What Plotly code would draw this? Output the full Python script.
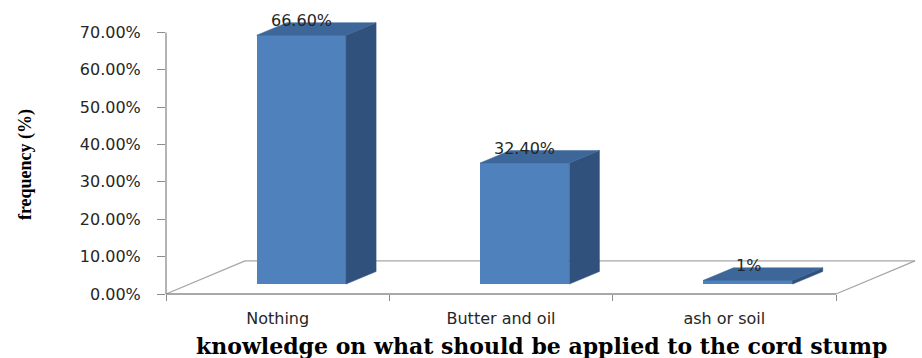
import plotly.graph_objects as go

# ---------------- data ----------------
categories = ["Nothing", "Butter and oil", "ash or soil"]
frequency = [66.6, 32.4, 1.0]
value_labels = ["66.60%", "32.40%", "1%"]
y_tick_values = [0, 10, 20, 30, 40, 50, 60, 70]
y_tick_labels = ["0.00%", "10.00%", "20.00%", "30.00%", "40.00%", "50.00%", "60.00%", "70.00%"]
x_title = "knowledge on what should be applied to the cord stump"
y_title = "frequency (%)"

# ---------------- 3-D look (axis units) ----------------
X_RANGE = [-0.5, 2.5]
Y_RANGE = [0, 76]
DEPTH = (0.354, 8.85)        # floor depth vector (x units, y units)
F_FRONT, F_BACK = 0.30, 0.68  # depth position of bar front/back faces
BAR_W = 0.40

FRONT = "#4F81BD"
TOP = "#3D6699"
SIDE = "#30517B"
AXIS_GREY = "#8C8C8C"
FLOOR_GREY = "#A6A6A6"
TEXT = "#262626"

xs = list(range(len(categories)))
base = F_FRONT * DEPTH[1]
xshift = F_FRONT * DEPTH[0]
bdx = (F_BACK - F_FRONT) * DEPTH[0]
bdy = (F_BACK - F_FRONT) * DEPTH[1]

fig = go.Figure()

# front faces
fig.add_trace(go.Bar(
    x=[i + xshift for i in xs], y=frequency, base=base, width=BAR_W,
    marker=dict(color=FRONT, line=dict(width=0)),
    hoverinfo="skip", showlegend=False,
))

# top and side faces
top_x, top_y, side_x, side_y = [], [], [], []
for i, v in zip(xs, frequency):
    left = i + xshift - BAR_W / 2
    right = left + BAR_W
    t = base + v
    top_x += [left, right, right + bdx, left + bdx, left, None]
    top_y += [t, t, t + bdy, t + bdy, t, None]
    side_x += [right, right, right + bdx, right + bdx, right, None]
    side_y += [base, t, t + bdy, base + bdy, base, None]

fig.add_trace(go.Scatter(x=side_x, y=side_y, mode="lines", fill="toself",
                         fillcolor=SIDE, line=dict(color=SIDE, width=0.5),
                         hoverinfo="skip", showlegend=False))
fig.add_trace(go.Scatter(x=top_x, y=top_y, mode="lines", fill="toself",
                         fillcolor=TOP, line=dict(color=TOP, width=0.5),
                         hoverinfo="skip", showlegend=False))

# dummy trace for the boundary-tick axis
fig.add_trace(go.Scatter(x=[0], y=[0], xaxis="x2", mode="markers",
                         marker=dict(opacity=0), hoverinfo="skip", showlegend=False))

# data labels
for i, v, lab in zip(xs, frequency, value_labels):
    fig.add_annotation(x=i + xshift, y=base + v + bdy, text=lab, showarrow=False,
                       xref="x", yref="y", yshift=2,
                       font=dict(family="DejaVu Sans", size=16, color=TEXT))


def to_paper(xu, yu):
    return ((xu - X_RANGE[0]) / (X_RANGE[1] - X_RANGE[0]),
            (yu - Y_RANGE[0]) / (Y_RANGE[1] - Y_RANGE[0]))


# floor outline and y axis line
fl = to_paper(X_RANGE[0], 0)
fr = to_paper(X_RANGE[1], 0)
bl = to_paper(X_RANGE[0] + DEPTH[0], DEPTH[1])
br = to_paper(X_RANGE[1] + DEPTH[0], DEPTH[1])
ytop = to_paper(X_RANGE[0], y_tick_values[-1])
segs = [(fl, bl, FLOOR_GREY), (bl, br, FLOOR_GREY), (br, fr, FLOOR_GREY),
        (fl, fr, AXIS_GREY), (fl, ytop, AXIS_GREY)]
for a, b, c in segs:
    fig.add_shape(type="line", xref="paper", yref="paper", layer="below",
                  x0=a[0], y0=a[1], x1=b[0], y1=b[1], line=dict(color=c, width=1.3))

# axis titles
fig.add_annotation(xref="paper", yref="paper", x=-0.21, y=0.455, text="<b>" + y_title + "</b>",
                   textangle=-90, showarrow=False, xanchor="center", yanchor="middle",
                   font=dict(family="Liberation Serif", size=18, color="#000000"))
fig.add_annotation(xref="paper", yref="paper", x=0.561, y=-0.2254, text="<b>" + x_title + "</b>",
                   showarrow=False, xanchor="center", yanchor="bottom", borderpad=0, yshift=-2,
                   font=dict(family="DejaVu Serif", size=22, color="#000000"))

fig.update_layout(
    width=922, height=358,
    margin=dict(l=166, r=86, t=10, b=64),
    paper_bgcolor="white", plot_bgcolor="rgba(0,0,0,0)",
    showlegend=False, bargap=0,
    xaxis=dict(range=X_RANGE, tickmode="array", tickvals=xs, ticktext=categories,
               ticks="outside", ticklen=10, tickcolor="rgba(0,0,0,0)",
               showline=False, showgrid=False, zeroline=False,
               tickfont=dict(family="DejaVu Sans", size=16, color=TEXT)),
    xaxis2=dict(range=X_RANGE, overlaying="x", anchor="y", side="bottom",
                tickmode="array", tickvals=[X_RANGE[0] + k for k in range(len(categories) + 1)],
                ticks="outside", ticklen=6, tickcolor=AXIS_GREY, tickwidth=1.3,
                showticklabels=False, showline=False, showgrid=False, zeroline=False),
    yaxis=dict(range=Y_RANGE, tickmode="array", tickvals=y_tick_values, ticktext=y_tick_labels,
               ticks="outside", ticklen=8, tickcolor=AXIS_GREY, tickwidth=1.3,
               ticklabelstandoff=13,
               showline=False, showgrid=False, zeroline=False,
               tickfont=dict(family="DejaVu Sans", size=16, color=TEXT)),
)

fig.write_html("out.html")
